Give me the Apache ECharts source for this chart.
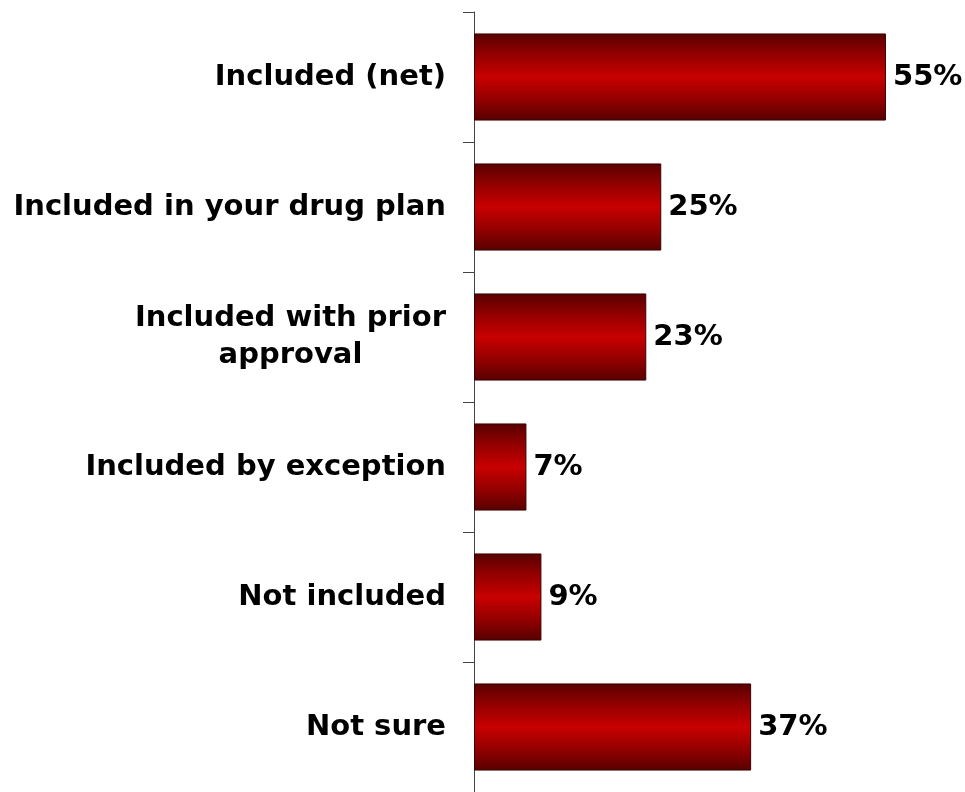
<!DOCTYPE html>
<html>
<head>
<meta charset="utf-8">
<style>
  html, body { margin: 0; padding: 0; background: #ffffff; }
  #chart { width: 965px; height: 792px; }
</style>
<script src="https://cdn.jsdelivr.net/npm/echarts@6/dist/echarts.min.js"></script>
</head>
<body>
<div id="chart"></div>
<script>
// Survey answers, listed top to bottom
const categories = [
  'Included (net)',
  'Included in your drug plan',
  'Included with prior\napproval',
  'Included by exception',
  'Not included',
  'Not sure'
];
// Share of respondents (%)
const values = [55, 25, 23, 7, 9, 37];

const FONT = '"DejaVu Sans", Verdana, sans-serif';

const chart = echarts.init(document.getElementById('chart'), null, { renderer: 'canvas' });

const barFill = new echarts.graphic.LinearGradient(0, 0, 0, 1, [
  { offset: 0, color: '#580000' },
  { offset: 0.25, color: '#950000' },
  { offset: 0.5, color: '#c80000' },
  { offset: 0.75, color: '#950000' },
  { offset: 1, color: '#580000' }
]);

chart.setOption({
  animation: false,
  backgroundColor: '#ffffff',
  grid: { left: 474, top: 12, width: 449.4, height: 782, containLabel: false },
  xAxis: {
    type: 'value',
    min: 0,
    max: 60,
    show: false
  },
  yAxis: {
    type: 'category',
    data: categories,
    inverse: true,
    axisLine: { show: true, lineStyle: { color: '#444444', width: 1 } },
    axisTick: { show: true, length: 11, inside: false, lineStyle: { color: '#444444', width: 1 } },
    axisLabel: {
      margin: 28,
      fontFamily: FONT,
      fontWeight: 'bold',
      fontSize: 29,
      color: '#000000',
      lineHeight: 37,
      align: 'right',
      formatter: function (v) {
        return v.split('\n').map(function (s) { return '{c|' + s + '}'; }).join('\n');
      },
      rich: {
        c: {
          align: 'center',
          fontFamily: FONT,
          fontWeight: 'bold',
          fontSize: 29,
          lineHeight: 37,
          color: '#000000'
        }
      }
    },
    splitLine: { show: false }
  },
  series: [{
    type: 'bar',
    data: values,
    barCategoryGap: '33%',
    itemStyle: {
      color: barFill,
      borderColor: '#3a0000',
      borderWidth: 1
    },
    label: {
      show: true,
      position: 'right',
      distance: 7,
      formatter: '{c}%',
      fontFamily: FONT,
      fontWeight: 'bold',
      fontSize: 29,
      color: '#000000'
    }
  }]
});
</script>
</body>
</html>
